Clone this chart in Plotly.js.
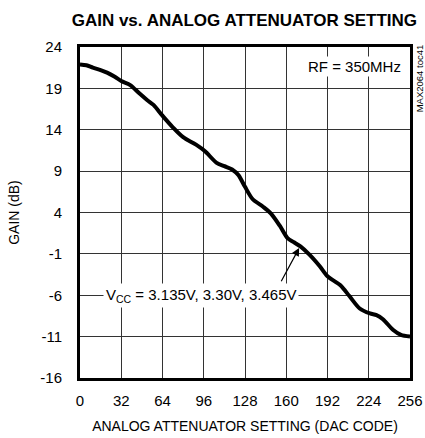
<!DOCTYPE html>
<html><head><meta charset="utf-8">
<script src="https://cdn.plot.ly/plotly-3.0.1.min.js"></script>
<style>html,body{margin:0;padding:0;background:#fff}#chart{width:425px;height:438px}</style>
</head><body><div id="chart"></div>
<script>
const dacCode = [0,5,10,16,21,27,32,39,46,52,57,64,72,80,90,97,106,112,118,123,128,134,142,148,155,161,166,171,178,186,192,202,209,217,225,230,235,243,249,256];
const gainDb = [21.9,21.8,21.5,21.2,20.9,20.4,19.9,19.4,18.4,17.6,17.0,15.7,14.3,13.1,12.2,11.4,10.0,9.6,9.2,8.5,7.1,5.6,4.7,3.9,2.4,0.9,0.4,-0.1,-1.1,-2.5,-3.7,-4.8,-6.1,-7.6,-8.2,-8.4,-8.9,-10.2,-10.8,-11.0];
const xTicks = [0,32,64,96,128,160,192,224,256];
const yTicks = [-16,-11,-6,-1,4,9,14,19,24];
const yTickText = ["-16","-11","-6","-1","4","9","14","19","24"];

const FONT = "'Liberation Sans Narrow', 'Arial Narrow', 'Liberation Sans', Arial, sans-serif";

const trace = {
  x: dacCode, y: gainDb, type: 'scatter', mode: 'lines',
  line: {color: '#000', width: 4, shape: 'spline', smoothing: 0.8},
  hoverinfo: 'skip'
};

const layout = {
  width: 425, height: 438,
  margin: {l: 80, r: 15, t: 47, b: 60},
  paper_bgcolor: '#fff', plot_bgcolor: '#fff',
  showlegend: false,
  font: {family: FONT, color: '#000', size: 14},
  title: {text: '<b>GAIN vs. ANALOG ATTENUATOR SETTING</b>', x: 0.575, xanchor: 'center', y: 0.955, yanchor: 'middle',
          font: {family: FONT, size: 17, color: '#000'}},
  xaxis: {
    range: [0, 256], tickvals: xTicks, ticktext: xTicks.map(String),
    showgrid: true, gridcolor: '#333', gridwidth: 1,
    showline: true, linecolor: '#000', linewidth: 3, mirror: true,
    ticks: '', zeroline: false, fixedrange: true, ticklabelstandoff: 7,
    tickfont: {family: FONT, size: 15, color: '#000'},
    title: {text: 'ANALOG ATTENUATOR SETTING (DAC CODE)', standoff: 14, font: {family: FONT, size: 14, color: '#000'}}
  },
  yaxis: {
    range: [-16, 24], tickvals: yTicks, ticktext: yTickText,
    showgrid: true, gridcolor: '#333', gridwidth: 1,
    showline: true, linecolor: '#000', linewidth: 3, mirror: true,
    ticks: '', zeroline: false, fixedrange: true, ticklabelstandoff: 12,
    tickfont: {family: FONT, size: 15, color: '#000'},
    title: {text: 'GAIN (dB)', standoff: 18, font: {family: FONT, size: 14, color: '#000'}}
  },
  annotations: [
    {x: 170, y: -0.3, ax: 155.5, ay: -4.5, xref: 'x', yref: 'y', axref: 'x', ayref: 'y',
     showarrow: true, arrowhead: 2, arrowsize: 1.3, arrowwidth: 1.2, arrowcolor: '#000', text: ''},
    {x: 170, y: -6, xref: 'x', yref: 'y', xanchor: 'right', yanchor: 'middle', showarrow: false,
     text: 'V<sub>CC</sub> = 3.135V, 3.30V, 3.465V', bgcolor: '#fff', borderpad: 2,
     font: {family: FONT, size: 15, color: '#000'}},
    {x: 0.98, y: 0.94, xref: 'paper', yref: 'paper', xanchor: 'right', yanchor: 'middle', showarrow: false,
     text: 'RF = 350MHz', bgcolor: '#fff', font: {family: FONT, size: 15, color: '#000'}},
    {x: 1.03, y: 0.905, xref: 'paper', yref: 'paper', xanchor: 'center', yanchor: 'middle', showarrow: false,
     text: 'MAX2064 toc41', textangle: -90, font: {family: FONT, size: 9.5, color: '#000'}}
  ]
};

Plotly.newPlot('chart', [trace], layout, {staticPlot: true, displayModeBar: false});
</script></body></html>
